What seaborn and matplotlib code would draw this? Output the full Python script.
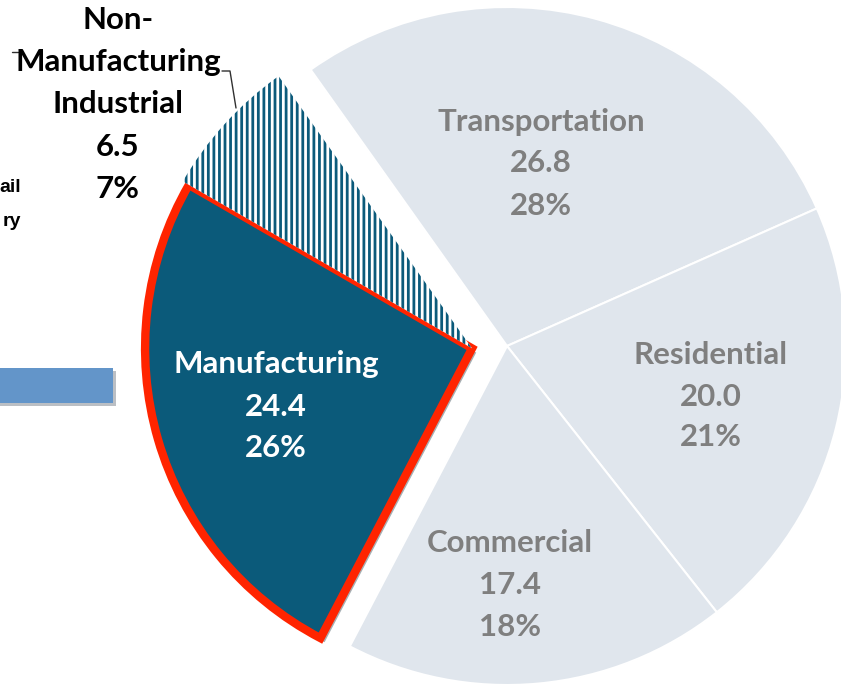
import matplotlib
matplotlib.use("Agg")
import matplotlib.pyplot as plt
import matplotlib.patheffects as pe
from matplotlib.patches import Rectangle
import numpy as np
import seaborn as sns

# ---------------- data ----------------
categories = ["Transportation", "Residential", "Commercial", "Manufacturing",
              "Non-Manufacturing Industrial"]
values = [26.8, 20.0, 17.4, 24.4, 6.5]
value_labels = ["26.8", "20.0", "17.4", "24.4", "6.5"]
percent_labels = ["28%", "21%", "18%", "26%", "7%"]
name_lines = [["Transportation"], ["Residential"], ["Commercial"], ["Manufacturing"],
              ["Non-", "Manufacturing", "Industrial"]]
cropped_labels = ["ail", "ry"]

# ---------------- style ----------------
sns.set_theme(style="white")
plt.rcParams['font.family'] = ['Lato', 'DejaVu Sans']
plt.rcParams['hatch.linewidth'] = 2.0

W, H = 841, 686
fig = plt.figure(figsize=(W / 100, H / 100), dpi=100)
ax = fig.add_axes([0, 0, 1, 1])


def py(y):
    return H - y


LIGHT = "#E0E6ED"
TEAL = "#0B5A7A"
RED = "#FF2400"
GRAY_TXT = "#7F7F7F"
colors = [LIGHT, LIGHT, LIGHT, TEAL, "white"]

center = (507, py(346))
R = 339
wedges, _ = ax.pie(values, colors=colors, startangle=125.4, counterclock=False,
                   radius=R, center=center,
                   wedgeprops=dict(edgecolor="white", linewidth=1.5))

# explode Manufacturing + Non-Manufacturing Industrial together
grp = [wedges[3], wedges[4]]
ths = [w.theta1 for w in grp] + [w.theta2 for w in grp]
bis = np.deg2rad((min(ths) + max(ths)) / 2)
shift = 35
for w, r in zip(grp, [327, 334]):
    w.set_center((center[0] + shift * np.cos(bis), center[1] + shift * np.sin(bis)))
    w.set_radius(r)

man = wedges[3]
man.set_edgecolor(RED)
man.set_linewidth(6)
man.set_joinstyle("miter")
man.set_path_effects([pe.SimplePatchShadow(offset=(3, -3), alpha=0.35), pe.Normal()])

nm = wedges[4]
nm.set_facecolor("white")
nm.set_edgecolor(TEAL)
nm.set_linewidth(0)
nm.set_hatch("|||")

ax.set_xlim(0, W)
ax.set_ylim(0, H)
ax.set_aspect("equal")
ax.axis("off")

# ---------------- labels ----------------
layout = {
    0: (541, [122, 163, 206], GRAY_TXT),
    1: (711, [355, 397, 437], GRAY_TXT),
    2: (510, [543, 585, 627], GRAY_TXT),
    3: (276, [364, 407, 448], "white"),
    4: (118, [20, 62, 104, 147, 189], "black"),
}
for i, (x, ys, col) in layout.items():
    lines = name_lines[i] + [value_labels[i], percent_labels[i]]
    for txt, y in zip(lines, ys):
        ax.text(x, py(y), txt, ha="center", va="center", fontsize=22.5,
                fontweight="bold", color=col)

# leader line for Non-Manufacturing Industrial
ax.plot([222, 230, 236], [py(71), py(71), py(108)], color="#303030", lw=1.0)
ax.plot([12, 18], [py(52), py(52)], color="#303030", lw=1.0)

# cropped fragments from the slide
for txt, y in zip(cropped_labels, [187, 222]):
    ax.text(21, py(y), txt, ha="right", va="center", fontsize=14,
            fontweight="bold", color="black", family=["Liberation Sans"])

bar = Rectangle((-5, py(403)), 118, 35, facecolor="#6395C9", edgecolor="none")
bar.set_path_effects([pe.SimplePatchShadow(offset=(2, -2), alpha=0.3), pe.Normal()])
ax.add_patch(bar)

fig.savefig("out.png", dpi=100)
